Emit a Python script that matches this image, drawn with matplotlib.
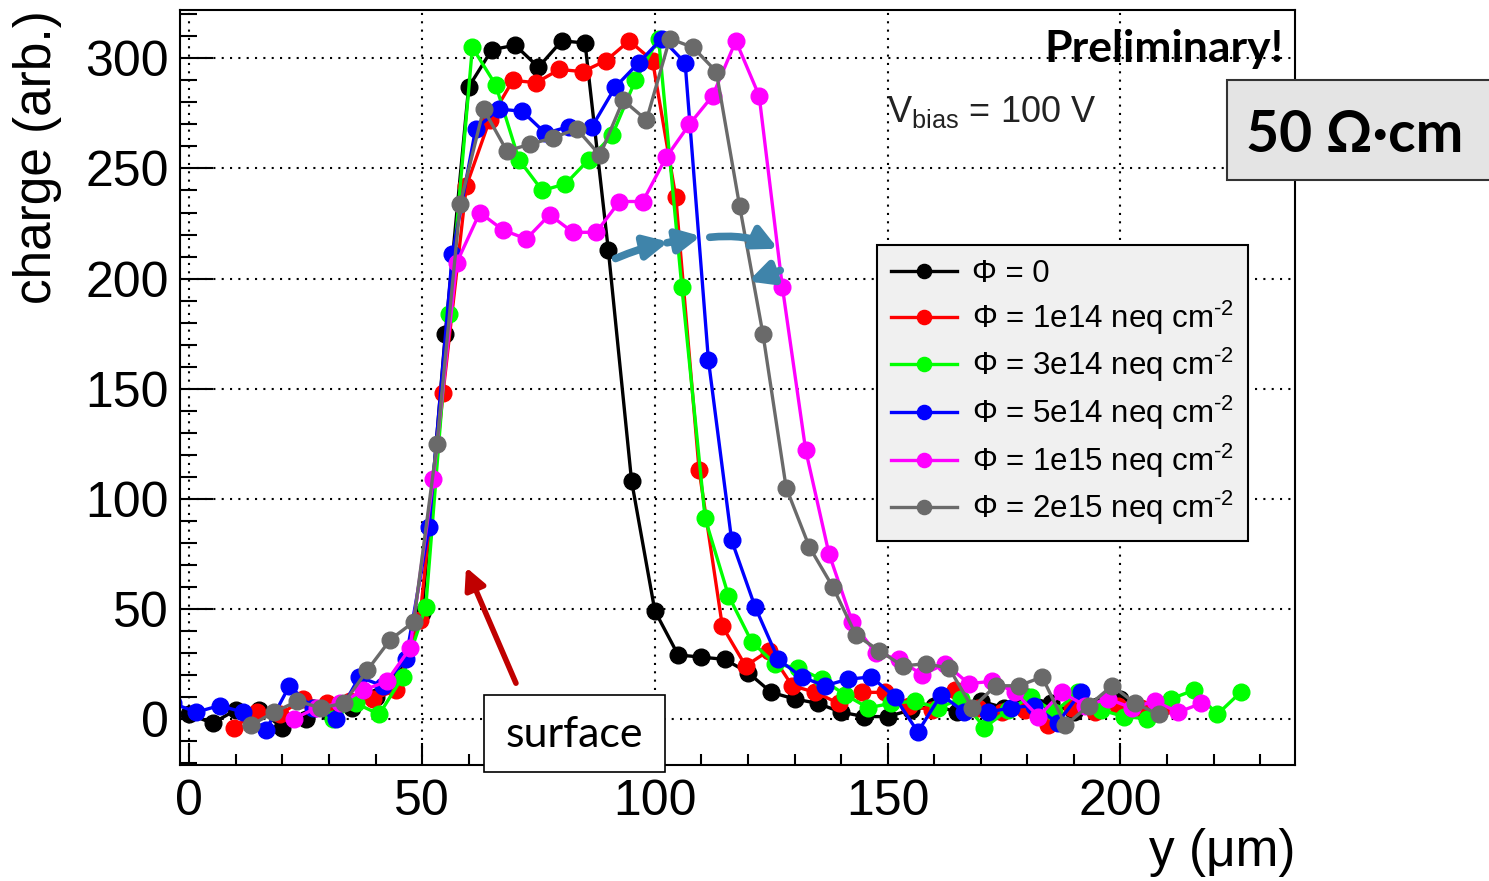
import numpy as np
import matplotlib.pyplot as plt
from matplotlib.patches import Rectangle, FancyArrowPatch
from matplotlib.ticker import MultipleLocator

plt.rcParams['font.family'] = ['Liberation Sans', 'DejaVu Sans']
plt.rcParams['mathtext.fontset'] = 'custom'
plt.rcParams['mathtext.rm'] = 'Liberation Sans'
plt.rcParams['mathtext.it'] = 'Liberation Sans:italic'

# ---- data (charge vs y position) ----
x_black = np.arange(0, 201, 5)
y_black = [2, -2, 4, 4, -4, 0, 3, 5, 10, 19, 48, 175, 287, 304, 306, 296, 308, 307,
           213, 108, 49, 29, 28, 27, 21, 12, 9, 7, 3, 1, 1, 4, 6, 3, 8, 5, 10, 7, 3, 6, 9]

x_red = np.arange(9.5, 210, 5)
y_red = [-4, 3, 2, 9, 7, 8, 9, 13, 45, 148, 242, 272, 290, 289, 295, 294, 299, 308,
         299, 237, 113, 42, 24, 31, 15, 12, 7, 12, 12, 6, 4, 13, 5, 3, 4, -3, 5, 3, 6, 5, 6]

x_green = np.arange(30.8, 226, 5)
y_green = [0, 7, 2, 19, 51, 184, 305, 288, 254, 240, 243, 254, 265, 290, 309, 196,
           91, 56, 35, 25, 23, 18, 11, 5, 7, 8, 5, 9, -4, 4, 10, 3, 12, 4, 1, 0, 9, 13, 2, 12]

x_blue = np.arange(-3.5, 192, 5)
y_blue = [7, 3, 6, 3, -5, 15, 5, 0, 19, 15, 27, 87, 211, 268, 277, 276, 266, 269, 269,
          287, 298, 309, 298, 163, 81, 51, 27, 19, 15, 18, 19, 10, -6, 11, 3, 3, 5, 6, -2, 12]

x_magenta = np.arange(22.4, 218, 5)
y_magenta = [0, 5, 7, 13, 17, 32, 109, 207, 230, 222, 218, 229, 221, 221, 235, 235,
             255, 270, 283, 308, 283, 196, 122, 75, 44, 30, 27, 20, 25, 16, 17, 12, 1,
             12, 6, 9, 5, 8, 3, 7]

x_grey = np.arange(13.2, 209, 5)
y_grey = [-3, 3, 8, 5, 7, 22, 36, 44, 125, 234, 277, 258, 261, 264, 268, 256, 281,
          272, 309, 305, 294, 233, 175, 105, 78, 60, 38, 31, 24, 25, 23, 5, 15, 15, 19,
          -3, 6, 15, 7, 2]

sup = '$^{\\text{-2}}$'
series = [
    (x_black, y_black, 'black', 'Φ = 0'),
    (x_red, y_red, '#ff0000', 'Φ = 1e14 neq cm' + sup),
    (x_green, y_green, '#00ff00', 'Φ = 3e14 neq cm' + sup),
    (x_blue, y_blue, '#0000ff', 'Φ = 5e14 neq cm' + sup),
    (x_magenta, y_magenta, '#ff00ff', 'Φ = 1e15 neq cm' + sup),
    (x_grey, y_grey, '#6a6a6a', 'Φ = 2e15 neq cm' + sup),
]

fig = plt.figure(figsize=(14.89, 8.81), dpi=100)
ax = fig.add_axes([180 / 1489, 116 / 881, 1115 / 1489, 755 / 881])

for xs, ys, c, lab in series:
    ax.plot(xs, ys, '-o', color=c, lw=2.4, ms=12, mec=c, label=lab)

ax.set_xlim(-2, 237.5)
ax.set_ylim(-21, 322)

ax.xaxis.set_major_locator(MultipleLocator(50))
ax.xaxis.set_minor_locator(MultipleLocator(10))
ax.yaxis.set_major_locator(MultipleLocator(50))
ax.yaxis.set_minor_locator(MultipleLocator(10))
ax.tick_params(axis='both', which='both', direction='in', labelsize=36, width=1.5)
ax.tick_params(axis='x', which='major', length=16, pad=10)
ax.tick_params(axis='x', which='minor', length=8)
ax.tick_params(axis='y', which='major', length=24, pad=8)
ax.tick_params(axis='y', which='minor', length=12)
ax.grid(True, which='major', color='black', linestyle=(0, (1, 3)), lw=1.5)
for s in ax.spines.values():
    s.set_linewidth(1.5)

ax.set_ylabel('charge (arb.)', fontsize=37, loc='top')
ax.yaxis.set_label_coords(-0.106, 1.0)
ax.set_xlabel('y (μm)', fontsize=37, loc='right')
ax.xaxis.set_label_coords(1.0, -0.084)
ax.xaxis.label.set_va('top')

leg = ax.legend(loc='upper left', bbox_to_anchor=(0.625, 0.689), fontsize=22.5,
                frameon=True, fancybox=False, facecolor='#f0f0f0', edgecolor='black',
                framealpha=1, handlelength=2.1, labelspacing=0.3, borderpad=0.45,
                handletextpad=0.5, numpoints=1, markerscale=0.85, borderaxespad=0)
leg.get_frame().set_linewidth(1.5)

ax.text(0.99, 0.975, 'Preliminary!', transform=ax.transAxes, ha='right', va='top',
        fontsize=32, fontweight='bold', family=['Lato', 'DejaVu Sans'])
ax.text(0.634, 0.865, 'V$_{\\mathrm{bias}}$ = 100 V', transform=ax.transAxes,
        ha='left', va='center', fontsize=26, color='#222222')

# resistivity box
fig.patches.append(Rectangle((1227 / 1489, 701 / 881), 270 / 1489, 100 / 881,
                             transform=fig.transFigure, facecolor='#e4e4e4',
                             edgecolor='#333333', lw=1.5, clip_on=False))
fig.text(1355 / 1489, 745 / 881, '50 Ω·cm', ha='center', va='center', fontsize=41,
         fontweight='bold', family=['Lato', 'DejaVu Sans'])

# surface box
fig.patches.append(Rectangle((484 / 1489, 109 / 881), 181 / 1489, 77 / 881,
                             transform=fig.transFigure, facecolor='white',
                             edgecolor='black', lw=1.2, clip_on=False, zorder=5))
fig.text(574 / 1489, 146 / 881, 'surface', ha='center', va='center', fontsize=31,
         family=['Lato', 'DejaVu Sans'], zorder=6)

# arrows
blue_arr = '#3f84aa'
arrows = [
    ((91.0, 208.6), (103.5, 217.0), -0.05),
    ((102.0, 216.0), (110.5, 219.5), 0.0),
    ((111.2, 218.6), (127.0, 213.0), -0.15),
    ((127.5, 204.1), (119.5, 198.3), 0.0),
]
for (x0, y0), (x1, y1), rad in arrows:
    ax.add_patch(FancyArrowPatch((x0, y0), (x1, y1), arrowstyle='-|>',
                                 mutation_scale=34, lw=5.5, color=blue_arr,
                                 connectionstyle=f'arc3,rad={rad}', zorder=10))
ax.add_patch(FancyArrowPatch((70.4, 15), (59.2, 70), arrowstyle='-|>',
                             mutation_scale=32, lw=4, color='#c00000', zorder=10))

fig.savefig('out.png', dpi=100)
